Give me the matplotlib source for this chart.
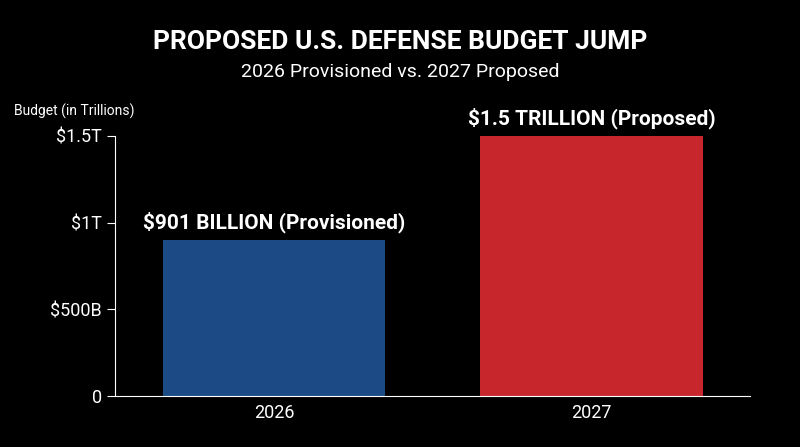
from matplotlib import pyplot as plt

years = ['2026', '2027']
budget_trillions = [0.901, 1.5]
bar_labels = ['$901 BILLION (Provisioned)', '$1.5 TRILLION (Proposed)']
bar_colors = ['#1b4a85', '#c8262d']
tick_values = [0, 0.5, 1.0, 1.5]
tick_labels = ['0', '$500B', '$1T', '$1.5T']

plt.rcParams['font.family'] = ['Roboto', 'DejaVu Sans']

fig = plt.figure(figsize=(8, 4.47), dpi=100, facecolor='black')
ax = fig.add_axes([0.144, 0.114, 0.794, 0.582], facecolor='black')

x = range(len(years))
ax.bar(x, budget_trillions, width=0.7, color=bar_colors)
for xi, val, lab in zip(x, budget_trillions, bar_labels):
    ax.text(xi, val + 0.04, lab, ha='center', va='bottom', color='white',
            fontsize=15, fontweight='bold')

ax.set_xlim(-0.5, 1.5)
ax.set_ylim(0, 1.5)
ax.set_xticks(list(x))
ax.set_xticklabels(years)
ax.set_yticks(tick_values)
ax.set_yticklabels(tick_labels)
ax.tick_params(colors='white', labelsize=13, length=6)
ax.tick_params(axis='x', length=0, pad=6)
for side in ('top', 'right'):
    ax.spines[side].set_visible(False)
for side in ('left', 'bottom'):
    ax.spines[side].set_color('white')

fig.text(0.5, 0.905, 'PROPOSED U.S. DEFENSE BUDGET JUMP', ha='center', va='center',
         color='white', fontsize=19, fontweight='bold')
fig.text(0.5, 0.84, '2026 Provisioned vs. 2027 Proposed', ha='center', va='center',
         color='white', fontsize=14)
fig.text(0.018, 0.752, 'Budget (in Trillions)', ha='left', va='center',
         color='white', fontsize=10)

fig.savefig('out.png', facecolor='black')
